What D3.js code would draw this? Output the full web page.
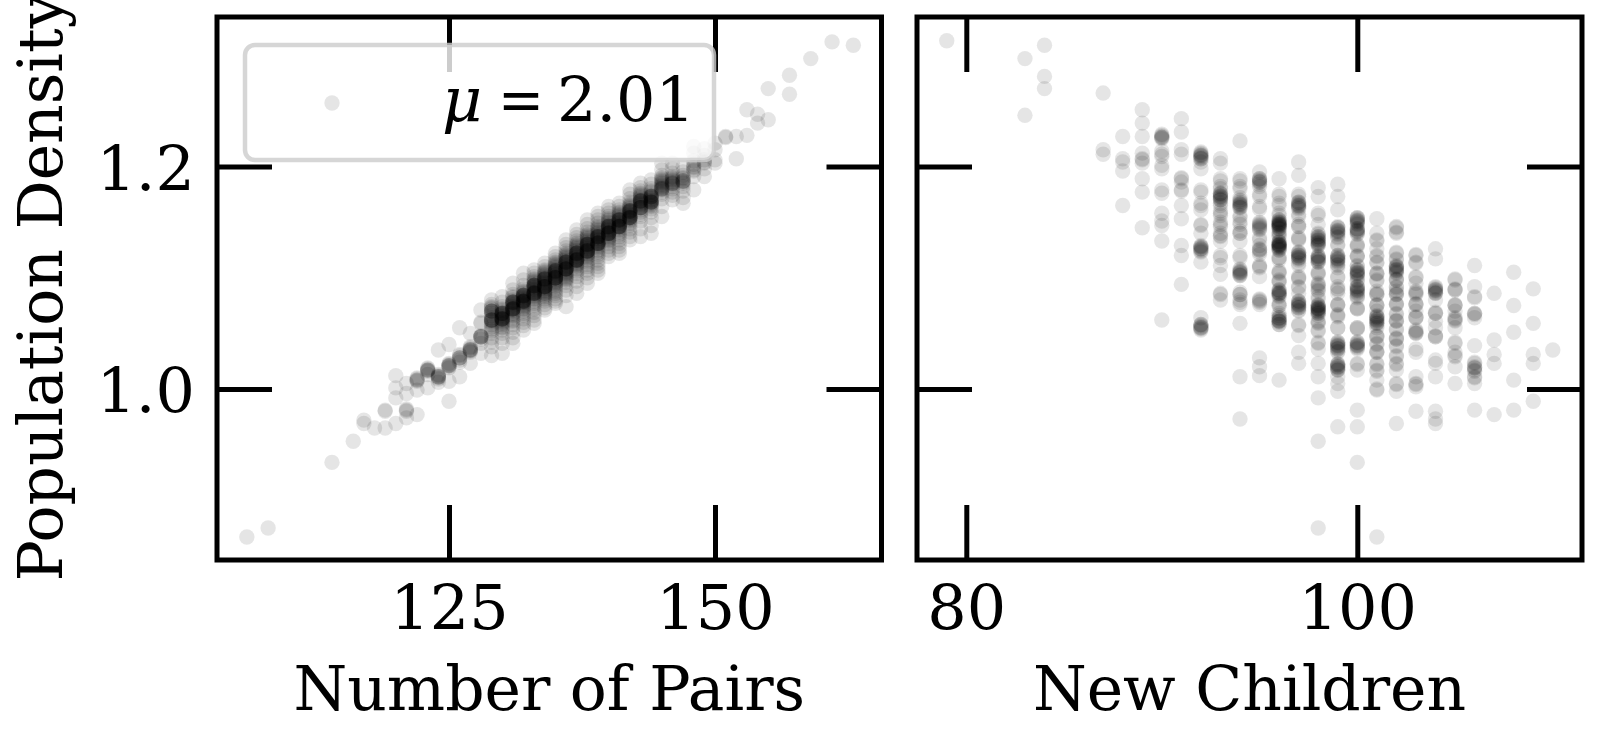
<!DOCTYPE html>
<html>
<head>
<meta charset="utf-8">
<script src="https://cdn.jsdelivr.net/npm/d3@7"></script>
<style>
  body { margin: 0; background: #fff; }
  text { font-family: "DejaVu Serif", serif; }
</style>
</head>
<body>
<svg id="chart" width="1600" height="740"></svg>
<script>
// ---------------- DATA ----------------
const yTicks = [1.0, 1.2];
const pairsTicks = [125, 150];
const childrenTicks = [80, 100];
const xLabelLeft = "Number of Pairs";
const xLabelRight = "New Children";
const yLabel = "Population Density";
const legendMu = "μ";
const legendValue = "2.01";

// Left panel: Number of Pairs (integer) and the densities observed at each value
const pairsValues = [106, 108, 114, 116, 117, 118, 119, 120, 121, 122, 123, 124, 125, 126, 127, 128,
  129, 130, 131, 132, 133, 134, 135, 136, 137, 138, 139, 140, 141, 142, 143, 144, 145, 146, 147, 148, 149, 150,
  151, 152, 153, 154, 155, 157, 159, 161, 163];
const pairsDensity = [
  [0.867], [0.875], [0.934], [0.953], [0.972, 0.969], [0.965], [0.981, 0.980, 0.965],
  [1.012, 1.001, 0.992, 0.969],
  [1.005, 0.996, 0.982, 0.981, 0.980, 0.974],
  [1.010, 1.009, 1.008, 1.007, 0.999, 0.977],
  [1.019, 1.018, 1.017, 1.016, 1.013, 1.001],
  [1.035, 1.013, 1.012, 1.011, 1.010, 1.009, 1.006],
  [1.040, 1.023, 1.022, 1.021, 1.020, 1.019, 1.007, 0.989],
  [1.055, 1.031, 1.030, 1.028, 1.026, 1.024, 1.011],
  [1.050, 1.038, 1.037, 1.036, 1.035, 1.034, 1.033, 1.023],
  [1.071, 1.060, 1.059, 1.048, 1.047, 1.045, 1.041, 1.032],
  [1.080, 1.076, 1.074, 1.073, 1.072, 1.070, 1.068, 1.066, 1.064, 1.062, 1.061, 1.060, 1.058, 1.056, 1.054, 1.052, 1.050, 1.046, 1.042, 1.038, 1.030],
  [1.083, 1.078, 1.074, 1.072, 1.071, 1.070, 1.069, 1.068, 1.067, 1.066, 1.065, 1.064, 1.063, 1.062, 1.061, 1.060, 1.059, 1.058, 1.056, 1.055, 1.053, 1.050, 1.046, 1.041, 1.032],
  [1.095, 1.089, 1.085, 1.083, 1.082, 1.080, 1.079, 1.078, 1.077, 1.076, 1.075, 1.074, 1.073, 1.072, 1.071, 1.070, 1.068, 1.067, 1.066, 1.064, 1.062, 1.061, 1.058, 1.055, 1.051, 1.046, 1.041],
  [1.104, 1.098, 1.093, 1.090, 1.088, 1.087, 1.086, 1.085, 1.084, 1.083, 1.082, 1.081, 1.080, 1.079, 1.078, 1.078, 1.077, 1.076, 1.075, 1.074, 1.073, 1.072, 1.070, 1.068, 1.066, 1.063, 1.060, 1.057, 1.053],
  [1.107, 1.104, 1.101, 1.099, 1.098, 1.097, 1.096, 1.095, 1.094, 1.093, 1.092, 1.091, 1.090, 1.089, 1.088, 1.087, 1.086, 1.085, 1.084, 1.083, 1.082, 1.081, 1.079, 1.077, 1.075, 1.072, 1.069, 1.066, 1.062, 1.059],
  [1.113, 1.110, 1.107, 1.106, 1.105, 1.104, 1.103, 1.102, 1.101, 1.100, 1.099, 1.098, 1.097, 1.096, 1.095, 1.094, 1.093, 1.092, 1.091, 1.090, 1.089, 1.088, 1.087, 1.086, 1.086, 1.085, 1.084, 1.083, 1.081, 1.079, 1.076, 1.073, 1.071],
  [1.122, 1.119, 1.116, 1.114, 1.113, 1.112, 1.111, 1.110, 1.109, 1.108, 1.107, 1.106, 1.105, 1.104, 1.103, 1.102, 1.101, 1.100, 1.099, 1.098, 1.097, 1.096, 1.095, 1.094, 1.093, 1.092, 1.090, 1.088, 1.086, 1.084, 1.081, 1.079, 1.077],
  [1.134, 1.130, 1.127, 1.124, 1.122, 1.121, 1.120, 1.119, 1.118, 1.117, 1.116, 1.115, 1.114, 1.113, 1.112, 1.111, 1.110, 1.109, 1.108, 1.107, 1.106, 1.105, 1.104, 1.103, 1.102, 1.101, 1.100, 1.099, 1.098, 1.096, 1.093, 1.089, 1.084, 1.074],
  [1.143, 1.139, 1.136, 1.133, 1.131, 1.130, 1.129, 1.128, 1.127, 1.126, 1.125, 1.124, 1.123, 1.122, 1.121, 1.120, 1.119, 1.118, 1.117, 1.116, 1.115, 1.114, 1.113, 1.112, 1.111, 1.110, 1.108, 1.106, 1.104, 1.101, 1.097, 1.092, 1.086],
  [1.152, 1.148, 1.144, 1.141, 1.139, 1.138, 1.137, 1.136, 1.135, 1.134, 1.133, 1.132, 1.131, 1.130, 1.129, 1.128, 1.127, 1.126, 1.125, 1.124, 1.123, 1.122, 1.121, 1.120, 1.119, 1.118, 1.116, 1.114, 1.112, 1.110, 1.107, 1.104, 1.100, 1.095],
  [1.158, 1.155, 1.152, 1.149, 1.146, 1.145, 1.144, 1.143, 1.142, 1.141, 1.140, 1.139, 1.138, 1.137, 1.136, 1.135, 1.134, 1.133, 1.132, 1.131, 1.130, 1.129, 1.128, 1.127, 1.125, 1.123, 1.121, 1.119, 1.116, 1.113, 1.110, 1.107, 1.104],
  [1.164, 1.161, 1.158, 1.155, 1.153, 1.152, 1.151, 1.150, 1.149, 1.148, 1.147, 1.146, 1.145, 1.144, 1.143, 1.142, 1.141, 1.140, 1.139, 1.138, 1.137, 1.136, 1.135, 1.134, 1.133, 1.131, 1.128, 1.125, 1.122, 1.119],
  [1.167, 1.164, 1.161, 1.159, 1.158, 1.157, 1.156, 1.155, 1.154, 1.153, 1.152, 1.151, 1.150, 1.149, 1.148, 1.147, 1.146, 1.145, 1.144, 1.143, 1.141, 1.139, 1.137, 1.134, 1.131, 1.128, 1.125, 1.122],
  [1.179, 1.175, 1.171, 1.168, 1.166, 1.165, 1.164, 1.163, 1.162, 1.161, 1.160, 1.159, 1.158, 1.157, 1.156, 1.155, 1.154, 1.153, 1.152, 1.151, 1.149, 1.147, 1.144, 1.141, 1.137, 1.134],
  [1.185, 1.181, 1.178, 1.176, 1.175, 1.174, 1.173, 1.172, 1.171, 1.170, 1.169, 1.168, 1.167, 1.166, 1.165, 1.163, 1.161, 1.159, 1.157, 1.155, 1.151, 1.144, 1.137],
  [1.188, 1.184, 1.180, 1.178, 1.177, 1.175, 1.174, 1.173, 1.172, 1.171, 1.170, 1.169, 1.168, 1.167, 1.166, 1.165, 1.164, 1.162, 1.159, 1.154, 1.147, 1.140],
  [1.203, 1.197, 1.192, 1.190, 1.189, 1.188, 1.187, 1.186, 1.185, 1.184, 1.183, 1.182, 1.181, 1.179, 1.177, 1.175, 1.171, 1.164, 1.155],
  [1.203, 1.198, 1.194, 1.191, 1.190, 1.189, 1.188, 1.187, 1.186, 1.184, 1.182, 1.180, 1.177, 1.174, 1.170],
  [1.200, 1.195, 1.192, 1.190, 1.189, 1.187, 1.186, 1.185, 1.182, 1.178, 1.172, 1.167],
  [1.218, 1.212, 1.205, 1.202, 1.200, 1.199, 1.197, 1.196, 1.191, 1.179],
  [1.216, 1.210, 1.206, 1.204, 1.203, 1.198, 1.191],
  [1.221, 1.215, 1.206, 1.203],
  [1.227, 1.226], [1.227, 1.207], [1.251, 1.228], [1.247, 1.239], [1.270, 1.242],
  [1.282, 1.265], [1.297], [1.312], [1.309]
];
// Repeated observations in the darkest part of the band: [pairs, density, extra count]
const pairsRepeats = [
  [122, 1.008, 1], [123, 1.017, 2], [124, 1.011, 2], [125, 1.021, 2], [126, 1.028, 2], [127, 1.035, 2],
  [128, 1.047, 3], [129, 1.062, 4], [129, 1.070, 3], [130, 1.063, 5], [130, 1.068, 4],
  [131, 1.072, 5], [131, 1.078, 4], [132, 1.079, 5], [132, 1.084, 4], [133, 1.086, 5], [133, 1.093, 4],
  [134, 1.092, 5], [134, 1.099, 4], [135, 1.100, 5], [135, 1.106, 4], [136, 1.108, 5], [136, 1.114, 4],
  [137, 1.116, 5], [137, 1.122, 4], [138, 1.124, 5], [138, 1.130, 4], [139, 1.131, 5], [139, 1.137, 4],
  [140, 1.140, 5], [140, 1.146, 4], [141, 1.146, 5], [141, 1.152, 4], [142, 1.154, 5], [142, 1.160, 4],
  [143, 1.163, 4], [143, 1.169, 4], [144, 1.168, 4], [144, 1.173, 3], [145, 1.180, 3], [146, 1.185, 3],
  [147, 1.187, 2]
];

// Right panel: New Children (integer) and the densities observed at each value
const childrenValues = [79, 83, 84, 87, 88, 89, 90, 91, 92, 93, 94, 95, 96, 97, 98, 99, 100,
  101, 102, 103, 104, 105, 106, 107, 108, 109, 110];
const childrenDensity = [
  [1.313],
  [1.297, 1.246],
  [1.309, 1.281, 1.270],
  [1.266, 1.215, 1.211],
  [1.227, 1.207, 1.204, 1.196, 1.165],
  [1.251, 1.239, 1.227, 1.212, 1.207, 1.206, 1.203, 1.189, 1.177, 1.145],
  [1.228, 1.227, 1.226, 1.225, 1.214, 1.211, 1.209, 1.201, 1.198, 1.179, 1.176, 1.158, 1.151, 1.147, 1.133, 1.062],
  [1.243, 1.231, 1.215, 1.211, 1.190, 1.189, 1.186, 1.179, 1.178, 1.165, 1.153, 1.129, 1.120, 1.094],
  [1.212, 1.211, 1.210, 1.209, 1.208, 1.207, 1.204, 1.198, 1.179, 1.177, 1.167, 1.165, 1.161, 1.148, 1.147,
   1.140, 1.129, 1.128, 1.127, 1.126, 1.125, 1.124, 1.114, 1.064, 1.058, 1.057, 1.056, 1.055, 1.054, 1.053],
  [1.207, 1.203, 1.189, 1.187, 1.182, 1.180, 1.176, 1.175, 1.174, 1.173, 1.172, 1.171, 1.170, 1.167, 1.165,
   1.158, 1.156, 1.148, 1.146, 1.140, 1.138, 1.133, 1.120, 1.118, 1.111, 1.103, 1.086, 1.085, 1.080],
  [1.223, 1.189, 1.187, 1.182, 1.180, 1.172, 1.170, 1.168, 1.167, 1.166, 1.165, 1.164, 1.163, 1.156, 1.154,
   1.150, 1.148, 1.142, 1.140, 1.133, 1.120, 1.118, 1.107, 1.106, 1.105, 1.104, 1.103, 1.102, 1.087, 1.085,
   1.080, 1.078, 1.076, 1.059, 1.011, 0.973],
  [1.195, 1.189, 1.188, 1.187, 1.186, 1.184, 1.182, 1.175, 1.173, 1.164, 1.162, 1.149, 1.148, 1.146, 1.145,
   1.143, 1.136, 1.134, 1.129, 1.126, 1.125, 1.123, 1.121, 1.111, 1.109, 1.101, 1.081, 1.080, 1.078, 1.076,
   1.028, 1.020, 1.012],
  [1.189, 1.175, 1.173, 1.167, 1.165, 1.158, 1.156, 1.152, 1.151, 1.150, 1.149, 1.149, 1.148, 1.148, 1.147,
   1.147, 1.146, 1.145, 1.144, 1.140, 1.138, 1.133, 1.132, 1.131, 1.130, 1.130, 1.129, 1.129, 1.128, 1.128,
   1.127, 1.126, 1.125, 1.118, 1.116, 1.106, 1.104, 1.098, 1.096, 1.089, 1.088, 1.087, 1.086, 1.086, 1.085,
   1.084, 1.077, 1.075, 1.068, 1.066, 1.064, 1.063, 1.062, 1.061, 1.061, 1.060, 1.058, 1.008],
  [1.204, 1.192, 1.175, 1.173, 1.168, 1.167, 1.166, 1.165, 1.164, 1.163, 1.157, 1.155, 1.148, 1.146, 1.136,
   1.134, 1.123, 1.122, 1.121, 1.120, 1.119, 1.118, 1.117, 1.113, 1.111, 1.101, 1.099, 1.092, 1.086, 1.079,
   1.078, 1.077, 1.076, 1.075, 1.074, 1.073, 1.070, 1.058, 1.057, 1.048, 1.033, 1.023],
  [1.181, 1.173, 1.158, 1.156, 1.148, 1.140, 1.139, 1.137, 1.136, 1.135, 1.134, 1.133, 1.132, 1.131, 1.130,
   1.129, 1.120, 1.119, 1.118, 1.117, 1.116, 1.115, 1.114, 1.105, 1.103, 1.095, 1.093, 1.089, 1.083, 1.081,
   1.076, 1.075, 1.074, 1.073, 1.072, 1.072, 1.071, 1.070, 1.069, 1.068, 1.061, 1.059, 1.053, 1.042, 1.041,
   1.036, 1.023, 1.011, 0.992, 0.953, 0.875],
  [1.184, 1.173, 1.161, 1.146, 1.145, 1.143, 1.142, 1.141, 1.140, 1.136, 1.130, 1.129, 1.120, 1.119, 1.118,
   1.117, 1.116, 1.115, 1.111, 1.109, 1.101, 1.092, 1.090, 1.086, 1.076, 1.075, 1.067, 1.065, 1.055, 1.042,
   1.041, 1.040, 1.039, 1.038, 1.037, 1.036, 1.033, 1.023, 1.022, 1.021, 1.020, 1.019, 1.018, 1.017, 1.011,
   1.005, 0.998, 0.966],
  [1.154, 1.153, 1.152, 1.151, 1.150, 1.149, 1.144, 1.143, 1.142, 1.141, 1.140, 1.130, 1.129, 1.120, 1.119,
   1.111, 1.110, 1.107, 1.106, 1.105, 1.104, 1.103, 1.102, 1.098, 1.097, 1.092, 1.091, 1.090, 1.089, 1.088,
   1.087, 1.083, 1.082, 1.073, 1.072, 1.055, 1.054, 1.042, 1.041, 1.040, 1.039, 1.038, 1.037, 1.023, 1.022,
   1.017, 0.981, 0.966, 0.934],
  [1.153, 1.140, 1.134, 1.133, 1.126, 1.120, 1.119, 1.114, 1.113, 1.104, 1.103, 1.098, 1.097, 1.086, 1.085,
   1.076, 1.075, 1.070, 1.066, 1.065, 1.064, 1.063, 1.062, 1.061, 1.060, 1.059, 1.055, 1.048, 1.047, 1.041,
   1.040, 1.034, 1.033, 1.023, 1.022, 1.017, 1.016, 1.008, 1.000, 0.999, 0.867],
  [1.146, 1.145, 1.141, 1.140, 1.123, 1.122, 1.117, 1.116, 1.111, 1.110, 1.109, 1.108, 1.107, 1.106, 1.105,
   1.099, 1.098, 1.092, 1.091, 1.086, 1.085, 1.077, 1.076, 1.068, 1.067, 1.062, 1.061, 1.054, 1.053, 1.046,
   1.045, 1.039, 1.038, 1.030, 1.029, 1.023, 1.022, 1.017, 1.005, 1.004, 0.998, 0.969],
  [1.121, 1.120, 1.114, 1.113, 1.101, 1.100, 1.095, 1.087, 1.086, 1.077, 1.076, 1.070, 1.065, 1.064, 1.052,
   1.051, 1.050, 1.036, 1.033, 1.011, 1.005, 1.004, 1.002, 0.980],
  [1.126, 1.117, 1.091, 1.090, 1.089, 1.088, 1.087, 1.086, 1.080, 1.069, 1.068, 1.061, 1.055, 1.048, 1.047,
   1.026, 1.023, 1.011, 0.980, 0.973, 0.969],
  [1.099, 1.098, 1.090, 1.089, 1.076, 1.075, 1.070, 1.063, 1.062, 1.055, 1.042, 1.041, 1.033, 1.030, 1.029,
   1.020, 1.005],
  [1.111, 1.092, 1.083, 1.082, 1.068, 1.067, 1.064, 1.039, 1.024, 1.023, 1.020, 1.019, 1.017, 1.016, 1.011,
   1.010, 1.005, 0.981],
  [1.086, 1.044, 1.031, 1.023, 0.977],
  [1.105, 1.075, 1.051, 1.008, 0.981],
  [1.090, 1.059, 1.031, 1.023, 0.989],
  [1.035]
];
// Further observations that build up the darker stacks: [new children, [densities]]
const childrenRepeats = [
  [90, [1.229, 1.226]],
  [92, [1.213, 1.210, 1.207, 1.128, 1.126, 1.123, 1.058, 1.055]],
  [93, [1.176, 1.173, 1.170, 1.160, 1.150, 1.137]],
  [94, [1.169, 1.166, 1.163, 1.108, 1.105, 1.102, 1.140, 1.085]],
  [95, [1.150, 1.147, 1.144, 1.189, 1.186, 1.125, 1.110, 1.079]],
  [96, [1.152, 1.150, 1.148, 1.146, 1.144, 1.132, 1.130, 1.129, 1.127, 1.125, 1.089, 1.086, 1.083,
        1.064, 1.061, 1.058, 1.141, 1.137, 1.118, 1.105, 1.097, 1.075]],
  [97, [1.168, 1.165, 1.162, 1.123, 1.120, 1.118, 1.116, 1.079, 1.076, 1.073, 1.071, 1.146, 1.135, 1.100, 1.091]],
  [98, [1.137, 1.134, 1.131, 1.129, 1.119, 1.117, 1.114, 1.075, 1.073, 1.072, 1.070, 1.068, 1.066,
        1.091, 1.088, 1.104, 1.094, 1.060, 1.052]],
  [99, [1.145, 1.142, 1.139, 1.137, 1.120, 1.117, 1.114, 1.112, 1.042, 1.039, 1.036, 1.034, 1.022,
        1.020, 1.017, 1.100, 1.089, 1.076, 1.066, 1.055]],
  [100, [1.154, 1.151, 1.148, 1.144, 1.142, 1.139, 1.107, 1.104, 1.101, 1.092, 1.089, 1.086, 1.084,
         1.042, 1.039, 1.036, 1.128, 1.119, 1.072, 1.055]],
  [101, [1.065, 1.062, 1.059, 1.057, 1.088, 1.085, 1.104, 1.075, 1.047, 1.033]],
  [102, [1.110, 1.107, 1.104, 1.088, 1.085, 1.098, 1.076, 1.061, 1.045]],
  [103, [1.053, 1.050, 1.088, 1.085, 1.076, 1.064]],
  [104, [1.092, 1.089, 1.086, 1.068, 1.047]],
  [105, [1.064, 1.061, 1.075, 1.089]],
  [106, [1.068, 1.019]]
];

// ---------------- LAYOUT ----------------
const svg = d3.select("#chart");
svg.append("rect").attr("width", 1600).attr("height", 740).attr("fill", "#fff");

const plotTop = 17, plotBottom = 560;
const FONT = 62, LABEL_FONT = 61.5, TICK_LEN = 55, LINE_W = 5, R = 7.7;

const y = d3.scaleLinear().domain([0.84629, 1.33438]).range([plotBottom, plotTop]);

function panel(x0, x1, xDomain, xTicks, xVals, yLists, repeats, xLabel, showYLabels) {
  const x = d3.scaleLinear().domain(xDomain).range([x0, x1]);
  const g = svg.append("g");

  const pts = xVals.flatMap((v, i) => yLists[i].map(d => [v, d]));
  repeats.forEach(r => {
    if (Array.isArray(r[1])) r[1].forEach(d => pts.push([r[0], d]));
    else for (let k = 0; k < r[2]; k++) pts.push([r[0], r[1]]);
  });

  g.append("g").selectAll("circle").data(pts).join("circle")
    .attr("cx", d => x(d[0]))
    .attr("cy", d => y(d[1]))
    .attr("r", R)
    .attr("fill", "#000")
    .attr("fill-opacity", 0.1);

  const style = sel => {
    sel.select(".domain").remove();
    sel.attr("font-family", null).attr("font-size", null);
    sel.selectAll(".tick line").attr("stroke", "#000").attr("stroke-width", LINE_W);
    sel.selectAll(".tick text").attr("fill", "#000").style("font-size", FONT + "px");
  };

  g.append("g").attr("transform", `translate(0,${plotBottom})`)
    .call(d3.axisBottom(x).tickValues(xTicks).tickSizeInner(-TICK_LEN).tickSizeOuter(0)
      .tickPadding(25).tickFormat(d3.format("d")))
    .call(style);
  g.append("g").attr("transform", `translate(0,${plotTop})`)
    .call(d3.axisTop(x).tickValues(xTicks).tickSizeInner(-TICK_LEN).tickSizeOuter(0).tickFormat(""))
    .call(style);
  const leftAx = g.append("g").attr("transform", `translate(${x0},0)`)
    .call(d3.axisLeft(y).tickValues(yTicks).tickSizeInner(-TICK_LEN).tickSizeOuter(0)
      .tickPadding(22).tickFormat(showYLabels ? d3.format(".1f") : ""))
    .call(style);
  leftAx.selectAll(".tick text").attr("dy", "0.37em");
  g.append("g").attr("transform", `translate(${x1},0)`)
    .call(d3.axisRight(y).tickValues(yTicks).tickSizeInner(-TICK_LEN).tickSizeOuter(0).tickFormat(""))
    .call(style);

  g.append("rect")
    .attr("x", x0).attr("y", plotTop)
    .attr("width", x1 - x0).attr("height", plotBottom - plotTop)
    .attr("fill", "none").attr("stroke", "#000").attr("stroke-width", LINE_W);

  g.append("text")
    .attr("x", (x0 + x1) / 2).attr("y", 710)
    .attr("text-anchor", "middle")
    .style("font-size", LABEL_FONT + "px")
    .text(xLabel);
  return x;
}

panel(217, 881.5, [103.195, 165.648], pairsTicks, pairsValues, pairsDensity, pairsRepeats, xLabelLeft, true);
panel(917, 1582, [77.478, 111.494], childrenTicks, childrenValues, childrenDensity, childrenRepeats, xLabelRight, false);

// y-axis label
svg.append("text")
  .attr("transform", `translate(62,${(plotTop + plotBottom) / 2 - 1}) rotate(-90)`)
  .attr("text-anchor", "middle")
  .style("font-size", LABEL_FONT + "px")
  .text(yLabel);

// legend
const lg = svg.append("g");
lg.append("rect")
  .attr("x", 245).attr("y", 45).attr("width", 469).attr("height", 115)
  .attr("rx", 10).attr("ry", 10)
  .attr("fill", "#fff").attr("fill-opacity", 0.8)
  .attr("stroke", "#ccc").attr("stroke-opacity", 0.8).attr("stroke-width", 4.5);
lg.append("circle").attr("cx", 332).attr("cy", 103).attr("r", R)
  .attr("fill", "#000").attr("fill-opacity", 0.1);
lg.append("text").attr("x", 442).attr("y", 121).style("font-size", FONT + "px")
  .style("font-style", "italic").text(legendMu);
lg.append("text").attr("x", 498).attr("y", 121)
  .attr("textLength", 46).attr("lengthAdjust", "spacingAndGlyphs")
  .style("font-size", FONT + "px").text("=");
lg.append("text").attr("x", 695).attr("y", 121).attr("text-anchor", "end")
  .style("font-size", FONT + "px").text(legendValue);
</script>
</body>
</html>
